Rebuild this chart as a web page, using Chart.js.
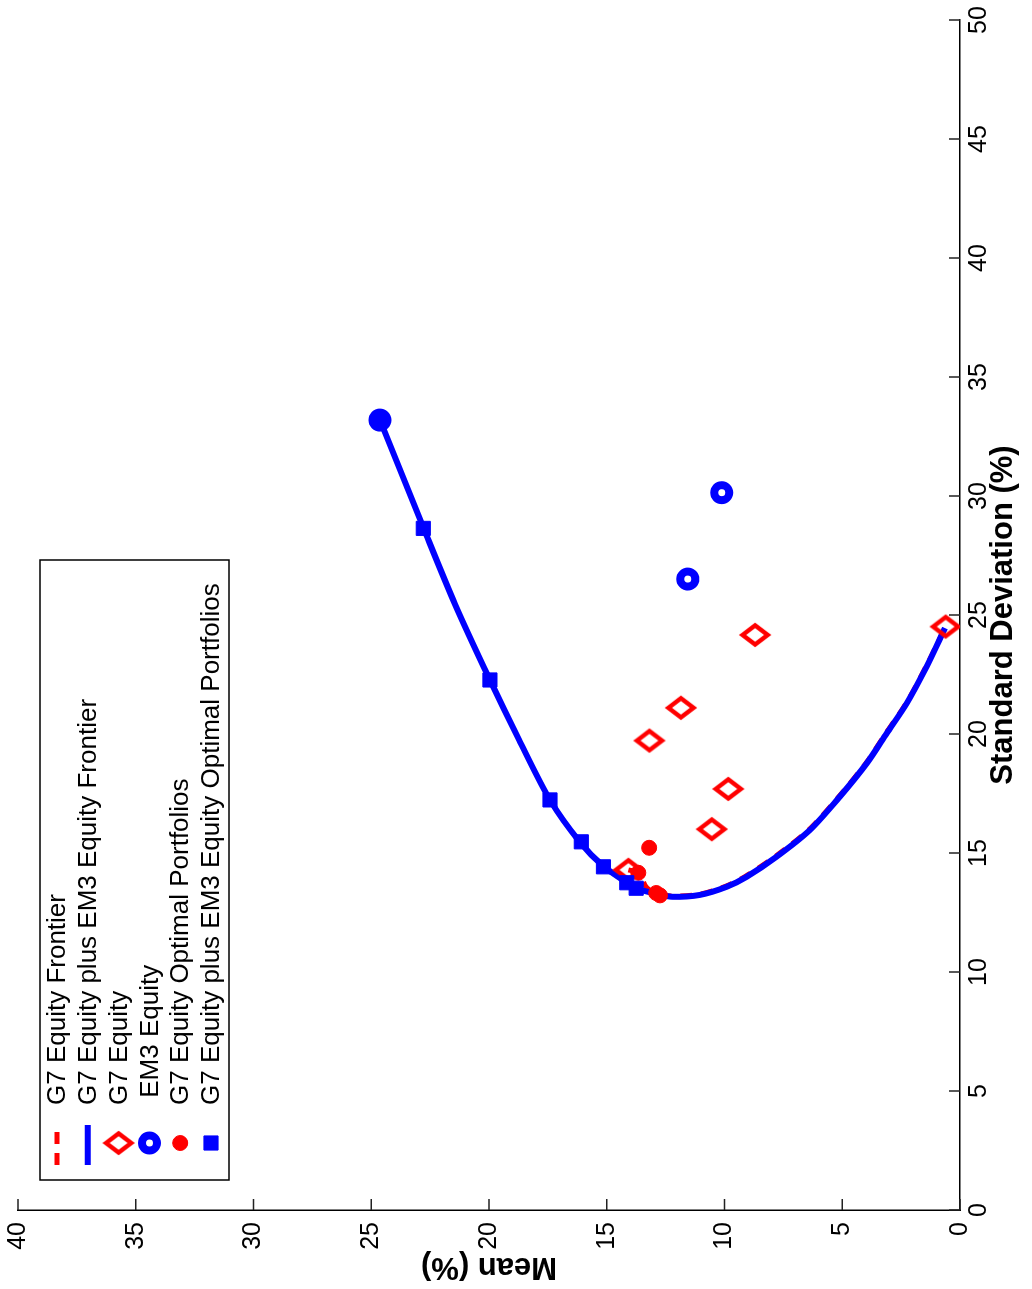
<!DOCTYPE html>
<html>
<head>
<meta charset="utf-8">
<script src="https://cdn.jsdelivr.net/npm/chart.js@4.4.0/dist/chart.umd.min.js"></script>
<style>
  html, body { margin: 0; padding: 0; background: #fff; overflow: hidden; width: 1032px; height: 1289px; }
  #wrap { position: absolute; left: 0; top: 0; width: 1289px; height: 1032px;
          transform-origin: 0 0; transform: translate(0px, 1289px) rotate(-90deg); background:#fff; }
</style>
</head>
<body>
<div id="wrap"><canvas id="c" width="1289" height="1032"></canvas></div>
<script>
// ---- data ----
const stdTicks  = [0, 5, 10, 15, 20, 25, 30, 35, 40, 45, 50];
const meanTicks = [0, 5, 10, 15, 20, 25, 30, 35, 40];

const seriesLabels = ['G7 Equity Frontier', 'G7 Equity plus EM3 Equity Frontier', 'G7 Equity',
  ' EM3 Equity', 'G7 Equity Optimal Portfolios', 'G7 Equity plus EM3 Equity Optimal Portfolios'];

const g7FrontierStd  = [14.29, 14.17, 13.54, 13.30, 13.19, 13.27, 13.62, 14.05, 14.9, 16.02, 17.42, 18.82, 20.08, 21.33, 22.87, 24.51];
const g7FrontierMean = [14.08, 13.66, 13.30, 12.88, 12.20, 11.04, 9.91, 9.06, 7.78, 6.37, 5.10, 3.96, 3.11, 2.26, 1.42, 0.61];

const allFrontierStd  = [33.19, 28.61, 25.45, 22.27, 19.75, 17.23, 15.46, 14.45, 13.76, 13.52, 13.28, 13.16, 13.24, 13.58, 14.0, 14.85, 15.97, 17.37, 18.77, 20.03, 21.29, 22.83, 24.45];
const allFrontierMean = [24.63, 22.76, 21.44, 19.96, 18.72, 17.41, 16.14, 15.15, 14.15, 13.77, 12.88, 12.20, 11.04, 9.91, 9.06, 7.78, 6.37, 5.10, 3.96, 3.11, 2.26, 1.42, 0.64];

const g7EquityStd  = [24.51, 24.16, 21.10, 19.72, 17.69, 16.00, 14.29];
const g7EquityMean = [0.61, 8.70, 11.85, 13.19, 9.84, 10.54, 14.08];

const em3EquityStd  = [30.14, 26.51, 33.19];
const em3EquityMean = [10.12, 11.56, 24.63];

const g7OptStd  = [15.22, 14.17, 13.32, 13.22];
const g7OptMean = [13.20, 13.66, 12.90, 12.74];

const allOptStd  = [33.19, 28.64, 22.27, 17.23, 15.47, 14.42, 13.75, 13.52];
const allOptMean = [24.63, 22.79, 19.96, 17.41, 16.08, 15.14, 14.15, 13.75];

// ---- helpers ----
const pts = (xs, ys) => xs.map((v, i) => ({ x: v, y: ys[i] }));
const FONT = "'Liberation Sans', Arial, Helvetica, sans-serif";

// hollow diamond marker (MATLAB style)
const diamond = document.createElement('canvas');
diamond.width = 36; diamond.height = 36;
(function () {
  const g = diamond.getContext('2d');
  g.strokeStyle = '#ff0000'; g.lineWidth = 4.5; g.lineJoin = 'miter';
  g.beginPath();
  g.moveTo(18, 18 - 12.5); g.lineTo(18 + 9.5, 18); g.lineTo(18, 18 + 12.5); g.lineTo(18 - 9.5, 18);
  g.closePath(); g.stroke();
})();

const datasets = [
  { label: seriesLabels[0], data: pts(g7FrontierStd, g7FrontierMean), showLine: true, pointRadius: 0,
    borderColor: '#ff0000', borderWidth: 5, borderDash: [12, 9], tension: 0.28, fill: false, isLine: true },
  { label: seriesLabels[1], data: pts(allFrontierStd, allFrontierMean), showLine: true, pointRadius: 0,
    borderColor: '#0000ff', borderWidth: 6, tension: 0.28, fill: false, isLine: true },
  { label: seriesLabels[2], data: pts(g7EquityStd, g7EquityMean), showLine: false, pointStyle: diamond,
    pointRadius: 12, borderColor: '#ff0000', backgroundColor: 'rgba(0,0,0,0)', borderWidth: 0 },
  { label: seriesLabels[3], data: pts(em3EquityStd, em3EquityMean), showLine: false, pointStyle: 'circle',
    pointRadius: 7.5, borderColor: '#0000ff', backgroundColor: 'rgba(0,0,0,0)', borderWidth: 8 },
  { label: seriesLabels[4], data: pts(g7OptStd, g7OptMean), showLine: false, pointStyle: 'circle',
    pointRadius: 7.5, borderColor: '#ff0000', backgroundColor: '#ff0000', borderWidth: 1 },
  { label: seriesLabels[5], data: pts(allOptStd, allOptMean), showLine: false, pointStyle: 'rect',
    pointRadius: 10, borderColor: '#0000ff', backgroundColor: '#0000ff', borderWidth: 1 }
];
datasets.forEach((d, i) => { d.order = datasets.length - i; });

// inward tick marks
const innerTicks = {
  id: 'innerTicks',
  afterDraw(chart) {
    const { ctx, chartArea: a, scales: { x, y } } = chart;
    ctx.save();
    ctx.strokeStyle = '#222'; ctx.lineWidth = 1.5;
    ctx.beginPath();
    stdTicks.forEach(v => { const p = x.getPixelForValue(v); ctx.moveTo(p, a.bottom); ctx.lineTo(p, a.bottom - 11); });
    meanTicks.forEach(v => { const p = y.getPixelForValue(v); ctx.moveTo(a.left, p); ctx.lineTo(a.left + 11, p); });
    ctx.stroke();
    ctx.restore();
  }
};

// legend box inside plot
const boxLegend = {
  id: 'boxLegend',
  afterDraw(chart) {
    const ctx = chart.ctx;
    const bx = 109, by = 40, bw = 620, bh = 189;
    ctx.save();
    ctx.fillStyle = '#fff'; ctx.fillRect(bx, by, bw, bh);
    ctx.strokeStyle = '#000'; ctx.lineWidth = 1.5; ctx.strokeRect(bx, by, bw, bh);
    ctx.font = '26px ' + FONT; ctx.textBaseline = 'middle'; ctx.textAlign = 'left';
    chart.data.datasets.forEach((ds, i) => {
      const ry = 57 + i * 30.8;
      ctx.save();
      if (ds.isLine) {
        ctx.strokeStyle = ds.borderColor; ctx.lineWidth = ds.borderWidth;
        ctx.setLineDash(ds.borderDash || []);
        ctx.beginPath(); ctx.moveTo(124, ry); ctx.lineTo(164, ry); ctx.stroke();
      } else {
        ctx.fillStyle = ds.backgroundColor; ctx.strokeStyle = ds.borderColor; ctx.lineWidth = ds.borderWidth;
        Chart.helpers.drawPoint(ctx, { pointStyle: ds.pointStyle, radius: ds.pointRadius, borderWidth: ds.borderWidth, rotation: 0 }, 146, ry);
      }
      ctx.restore();
      ctx.fillStyle = '#000';
      ctx.fillText(ds.label, 184, ry + 1);
    });
    ctx.restore();
  }
};

new Chart(document.getElementById('c'), {
  type: 'scatter',
  data: { datasets },
  options: {
    responsive: false, animation: false, events: [],
    layout: { padding: { left: 0, right: 20, top: 18, bottom: 0 } },
    plugins: { legend: { display: false }, tooltip: { enabled: false } },
    scales: {
      x: {
        type: 'linear', position: 'bottom', min: 0, max: 50,
        afterBuildTicks: s => { s.ticks = stdTicks.map(v => ({ value: v })); },
        afterFit: s => { s.height = 72; s.paddingLeft = 0; s.paddingRight = 0; },
        ticks: { color: '#000', font: { family: FONT, size: 25 }, padding: 4, maxRotation: 0 },
        grid: { display: false, drawTicks: false },
        border: { display: true, color: '#000', width: 1.5 },
        title: { display: true, text: 'Standard Deviation (%)', color: '#000',
                 font: { family: FONT, size: 31, weight: 'bold' }, padding: { top: 0, bottom: 10 } }
      },
      y: {
        type: 'linear', position: 'left', min: 0, max: 40,
        afterBuildTicks: s => { s.ticks = meanTicks.map(v => ({ value: v })); },
        afterFit: s => { s.width = 79; s.paddingTop = 0; s.paddingBottom = 0; },
        ticks: { color: '#000', font: { family: FONT, size: 25 }, padding: 12 },
        grid: { display: false, drawTicks: false },
        border: { display: true, color: '#000', width: 1.5 },
        title: { display: true, text: 'Mean (%)', color: '#000',
                 font: { family: FONT, size: 31, weight: 'bold' }, padding: { top: 4, bottom: 0 } }
      }
    }
  },
  plugins: [innerTicks, boxLegend]
});
</script>
</body>
</html>
